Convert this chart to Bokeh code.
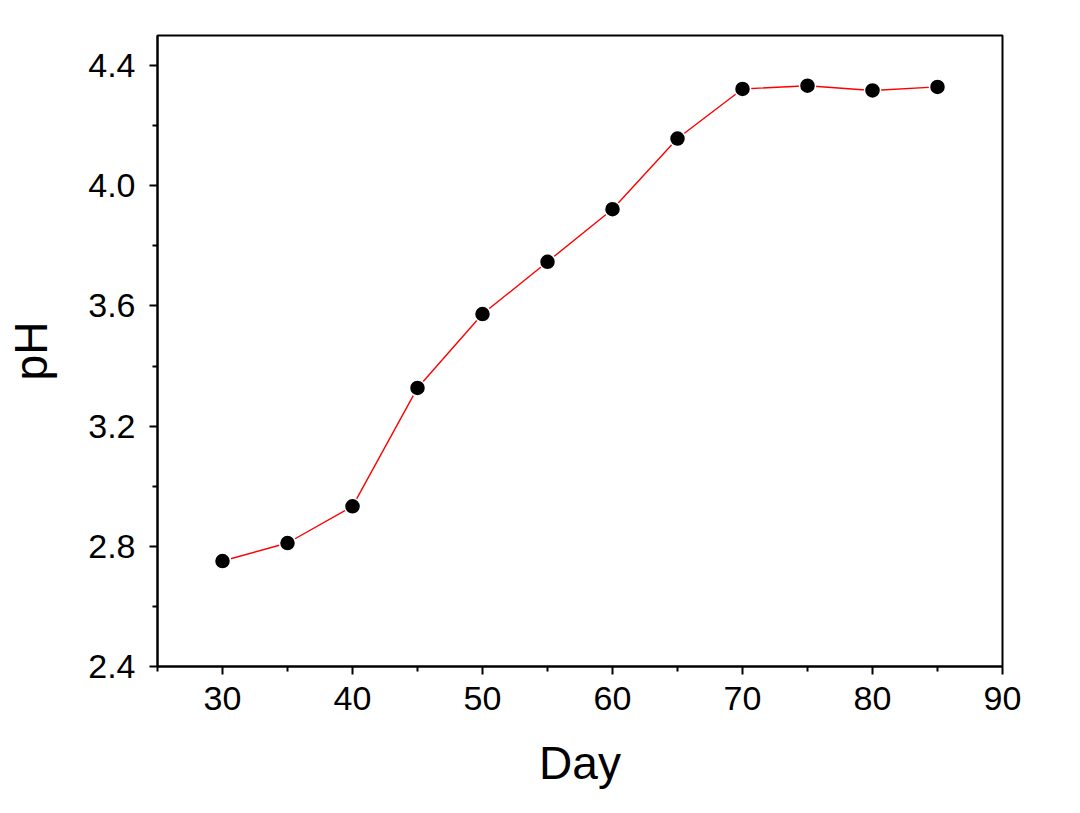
from bokeh.plotting import figure
from bokeh.models import FixedTicker, Range1d, ColumnDataSource
from bokeh.embed import file_html
from bokeh.resources import INLINE

days = [30, 35, 40, 45, 50, 55, 60, 65, 70, 75, 80, 85]
ph = [2.751, 2.811, 2.933, 3.327, 3.573, 3.747, 3.922, 4.157, 4.322, 4.333, 4.317, 4.329]
x_ticks = [30, 40, 50, 60, 70, 80, 90]
x_minor = [25, 35, 45, 55, 65, 75, 85]
y_ticks = [2.4, 2.8, 3.2, 3.6, 4.0, 4.4]
y_minor = [2.6, 3.0, 3.4, 3.8, 4.2]

src = ColumnDataSource(dict(day=days, ph=ph))

p = figure(width=1072, height=805, output_backend="svg", toolbar_location=None,
           x_range=Range1d(25, 90), y_range=Range1d(2.4, 4.5),
           min_border_left=157, min_border_top=35, min_border_right=70, min_border_bottom=139)
p.grid.visible = False
p.outline_line_color = "black"
p.outline_line_width = 2
p.background_fill_color = "white"
p.border_fill_color = "white"

p.line("day", "ph", source=src, line_color="#ff0000", line_width=1.4)
p.scatter("day", "ph", source=src, size=16, fill_color="black", line_color="white", line_width=1.5)

font = "Liberation Sans"
for ax in (p.xaxis[0], p.yaxis[0]):
    ax.axis_line_width = 2
    ax.major_tick_line_width = 2
    ax.minor_tick_line_width = 2
    ax.major_tick_out = 8
    ax.major_tick_in = 0
    ax.minor_tick_out = 5
    ax.minor_tick_in = 0
    ax.major_label_text_font = font
    ax.major_label_text_font_size = "34px"
    ax.major_label_text_color = "black"
    ax.axis_label_text_font = font
    ax.axis_label_text_font_size = "46px"
    ax.axis_label_text_font_style = "normal"
    ax.axis_label_text_color = "black"

p.xaxis.ticker = FixedTicker(ticks=x_ticks, minor_ticks=x_minor)
p.yaxis.ticker = FixedTicker(ticks=y_ticks, minor_ticks=y_minor)
p.yaxis.major_label_overrides = {v: f"{v:.1f}" for v in y_ticks}
p.xaxis.axis_label = "Day"
p.yaxis.axis_label = "pH"
p.xaxis.major_label_standoff = 12
p.yaxis.major_label_standoff = 14
p.xaxis.axis_label_standoff = 24
p.yaxis.axis_label_standoff = 28

open("out.html", "w").write(file_html(p, INLINE))
